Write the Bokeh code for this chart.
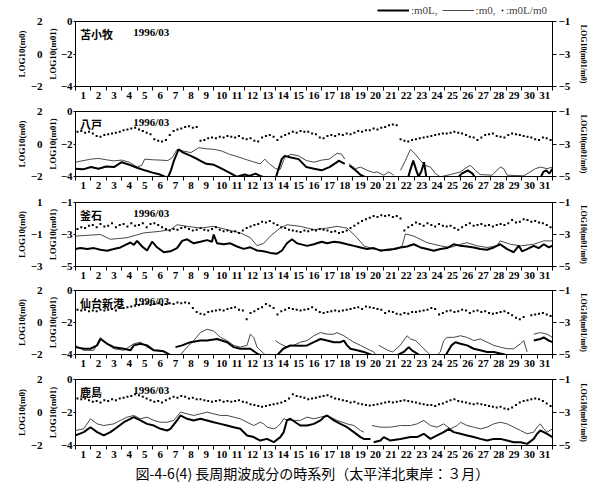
import numpy as np
from bokeh.plotting import figure
from bokeh.models import Range1d, LinearAxis, FixedTicker, Label, Legend, LegendItem, Title
from bokeh.layouts import column
from bokeh.embed import file_html
from bokeh.resources import INLINE

# ---------------- data ----------------
DAYS = list(range(1, 32))
MONTH = "1996/03"
STATIONS = ["苫小牧", "八戸", "釜石", "仙台新港", "鹿島"]
CAPTION = "図-4-6(4)  長周期波成分の時系列（太平洋北東岸：３月）"
LEGEND_LABELS = [":m0L,", ":m0,", ":m0L/m0"]
AXIS_LABELS = ["LOG10(m0)", "LOG10(m01)", "LOG10(m01/m0)"]

# y ticks of inner left axis (m01), outer left axis (m0) and right axis (m01/m0)
M01_TICKS = [[-4, -2, 0], [-4, -2, 0], [-5, -3, -1], [-4, -2, 0], [-4, -2, 0]]
M0_TICKS = [[-2, 0, 2], [-2, 0, 2], [-3, -1, 1], [-2, 0, 2], [-2, 0, 2]]
RATIO_TICKS = [-5, -3, -1]

# (day, value) pairs; None = break
HACHI_M0L = [(0,-3.52),(0.5,-3.56),(1,-3.42),(1.5,-3.52),(2,-3.38),(2.5,-3.42),(3,-3.12),(3.5,-3.28),
             (4,-3.46),(4.5,-3.62),(5,-3.76),(5.5,-3.88),(6,-4.08),(6.2,-3.62),(6.4,-3.02),(6.7,-2.33),
             (7,-2.53),(7.5,-2.73),(8,-2.97),(8.5,-3.22),(9,-3.28),(9.5,-3.52),(10,-3.76),(10.5,-4.02),
             (11,-3.88),(11.3,-3.96),(11.7,-3.82),(12,-3.96),(12.5,-4.12),(13,-4.12),(13.1,-3.82),
             (13.4,-2.93),(13.6,-2.73),(14,-2.83),(14.5,-2.93),(15,-3.42),(15.5,-3.52),(16,-3.62),
             (16.5,-3.42),(17,-3.12),(17.1,-3.02),(17.5,-3.22),(17.6,None),(17.8,-3.32),(18.2,-3.62),
             (18.5,-3.88),(19,-4.12),(21.6,-4.12),(21.75,-3.62),(21.95,-3.02),(22.15,-3.62),(22.3,-4.02),
             (22.5,-3.62),(22.65,-3.12),(22.8,-4.02),(23,-4.16),(24.8,-4.12),(25.1,-3.82),(25.5,-3.62),
             (25.8,-3.82),(26,-4.12),(30.2,-4.12),(30.4,-3.72),(30.6,-3.62),(30.8,-3.82),(31,-3.52)]
HACHI_M0 = [(0,-3.12),(1,-2.93),(1.5,-2.89),(2,-2.97),(2.5,-3.04),(3,-2.99),(3.5,-3.12),(4,-3.42),
            (4.3,-3.32),(4.5,-2.93),(5,-2.97),(5.5,-2.99),(6,-3.02),(6.3,-2.83),(6.6,-2.33),(7,-2.43),
            (7.5,-2.53),(8,-2.23),(8.5,-2.29),(9,-2.33),(9.5,-2.43),(10,-2.63),(10.5,-2.77),(11,-2.93),
            (11.5,-3.08),(12,-3.22),(12.3,-2.93),(12.6,-3.22),(13,-3.52),(13.3,-3.56),(13.6,-2.83),
            (14,-2.63),(14.5,-2.73),(15,-3.02),(15.5,-3.12),(16,-2.99),(16.5,-2.93),(17,-2.57),
            (17.3,-2.63),(17.5,-2.93),(17.6,None),(17.76,-3.22),(18.19,-3.52),(18.52,-3.42),(18.95,-3.62),
            (19.38,-3.76),(19.6,-3.72),(20.03,-3.92),(20.36,-3.72),(20.68,-3.92),(20.9,None),(21.12,-3.62),
            (21.44,-3.02),(21.77,-2.33),(22.09,-2.63),(22.42,-3.02),(22.74,-3.32),(23.07,-3.42),
            (23.39,-3.82),(23.71,-4.02),(24.36,-3.88),(25.02,-3.72),(25.45,-3.42),(25.67,-3.32),
            (25.99,-3.62),(26.31,-3.88),(27.07,-3.92),(27.61,-3.42),(27.83,-3.52),(28.05,-3.92),
            (29.13,-3.96),(29.89,-3.52),(30.21,-3.42),(30.65,-3.52),(31,-3.42)]
HACHI_RATIO = [
    -2.25,-2.20,-2.30,-2.25, -2.35,-2.50,-2.55,-2.45,
    -2.40,-2.35,-2.30,-2.25, -2.15,-2.10,-2.05,-2.00,
    -2.10,-2.20,-2.30,-2.40, -2.70,-2.80,-2.85,-2.75,
    -2.45,-2.20,-2.10,-2.05, -1.95,-1.90,-2.00,-1.95,
    -2.80,-2.75,-2.65,-2.60, -2.65,-2.55,-2.60,-2.50,
    -2.55,-2.60,-2.50,-2.65, -2.70,-2.65,-2.80,-2.85,
    -2.60,-2.50,-2.45,-2.55, -2.75,-2.55,-2.45,-2.35,
    -2.25,-2.30,-2.20,-2.25, -2.25,-2.35,-2.40,-2.60,
    -2.65,-2.50,-2.45,-2.50, -2.40,-2.45,-2.35,-2.40,
    -2.30,-2.20,-2.25,-2.15, -2.15,-2.05,-2.10,-2.00,
    -1.95,-1.85,-1.80,-1.85, -2.70,-2.80,-2.85,-2.75,
    -2.70,-2.65,-2.60,-2.55, -2.50,-2.45,-2.40,-2.35,
    -2.35,-2.30,-2.25,-2.30, -2.35,-2.45,-2.55,-2.60,
    -2.75,-2.60,-2.45,-2.40, -2.35,-2.50,-2.55,-2.60,
    -2.45,-2.35,-2.40,-2.45, -2.50,-2.55,-2.60,-2.70,
    -2.75,-2.60,-2.65,-2.75]

KAMA_M0L = [(0,-3.91),(0.32,-3.85),(0.76,-3.91),(1.19,-3.85),(1.62,-3.95),(2.06,-4.01),(2.49,-3.91),
            (2.92,-3.81),(3.25,-3.65),(3.57,-3.50),(3.79,-3.65),(4.0,-3.40),(4.33,-3.75),(4.65,-4.00),
            (4.98,-3.45),(5.3,-3.80),(5.74,-4.11),(6.17,-4.05),(6.6,-3.85),(6.93,-3.40),(7.25,-3.30),
            (7.68,-3.55),(8.12,-3.45),(8.55,-3.35),(8.87,-3.45),(8.98,-3.00),(9.2,-3.55),(9.63,-3.61),
            (10.06,-3.55),(10.5,-3.75),(10.93,-3.90),(11.36,-3.80),(11.8,-4.00),(12.23,-4.05),
            (12.66,-4.15),(13.1,-4.20),(13.42,-4.00),(13.74,-3.55),(14.07,-3.30),(14.39,-3.55),
            (14.61,-3.60),(15.05,-3.71),(15.49,-3.61),(16.0,-3.45),(16.35,-3.55),(16.8,-3.45),
            (17.2,-3.50),(17.65,-3.61),(18.09,-3.71),(18.52,-3.81),(18.95,-3.91),(19.38,-3.85),
            (19.82,-4.01),(20.25,-3.95),(20.68,-3.91),(21.12,-3.81),(21.55,-3.75),(21.98,-3.61),
            (22.42,-3.81),(22.85,-3.91),(23.28,-4.01),(23.72,-3.91),(24.15,-3.85),(24.58,-3.61),
            (25.02,-3.71),(25.45,-3.75),(25.88,-3.81),(26.31,-3.91),(26.75,-3.95),(27.18,-3.81),
            (27.6,-3.61),(28.05,-3.91),(28.48,-4.11),(28.81,-3.70),(29.02,-4.05),(29.35,-3.91),
            (29.78,-3.71),(30.1,-3.85),(30.43,-3.61),(30.76,-3.81),(31,-3.70)]
KAMA_M0 = [(0,-3.10),(0.76,-3.05),(1.62,-3.00),(2.27,-3.30),(2.8,-3.25),(3.35,-3.20),(3.9,-3.05),
           (4.44,-2.90),(4.98,-2.85),(5.5,-2.80),(6.17,-2.70),(6.6,-2.39),(7.25,-2.49),(8.12,-2.60),
           (8.98,-2.49),(9.85,-2.70),(10.71,-2.90),(11.36,-3.20),(11.8,-3.70),(12.23,-3.55),
           (12.66,-3.10),(13.3,-2.60),(13.74,-2.39),(14.61,-2.49),(15.49,-2.70),(16.35,-2.60),
           (17.0,-2.49),(17.65,-2.60),(17.87,-2.80),(18.3,-3.20),(18.74,-3.71),(19.38,-3.91),
           (20.25,-4.01),(20.9,-3.91),(21.23,-3.71),(21.44,-2.96),(21.98,-3.10),(22.85,-3.51),
           (23.72,-3.71),(24.37,-3.81),(25.02,-3.61),(25.45,-3.51),(26.1,-3.71),(26.75,-3.81),
           (27.4,-3.71),(27.6,-3.40),(28.26,-3.61),(28.92,-3.71),(29.78,-3.61),(30.43,-3.40),(31,-3.40)]
KAMA_RATIO = [
    -2.65,-2.55,-2.60,-2.45, -2.40,-2.55,-2.35,-2.50,
    -2.45,-2.30,-2.55,-2.40, -2.35,-2.50,-2.30,-2.45,
    -2.40,-2.30,-2.55,-2.35, -2.30,-2.40,-2.55,-2.65,
    -2.75,-2.65,-2.70,-2.60, -2.55,-2.65,-2.75,-2.70,
    -2.60,-2.70,-2.75,-2.65, -2.55,-2.70,-2.80,-2.75,
    -2.85,-2.80,-2.90,-2.75, -2.60,-2.50,-2.40,-2.35,
    -2.20,-2.25,-2.15,-2.30, -2.40,-2.55,-2.60,-2.70,
    -2.75,-2.80,-2.85,-2.75, -2.80,-2.70,-2.75,-2.65,
    -2.70,-2.75,-2.85,-2.80, -2.90,-2.85,-2.75,-2.60,
    -2.45,-2.30,-2.15,-2.05, -1.95,-1.85,-1.90,-1.80,
    -1.85,-1.80,-1.90,-1.85, -2.00,-2.75,-2.55,-2.40,
    -2.25,-2.35,-2.45,-2.30, -2.40,-2.50,-2.35,-2.45,
    -2.50,-2.45,-2.60,-2.70, -2.55,-2.40,-2.30,-2.45,
    -2.40,-2.35,-2.45,-2.40, -2.50,-2.40,-2.35,-2.40,
    -2.30,-2.10,-2.25,-2.20, -2.05,-2.10,-2.20,-2.15,
    -2.25,-2.30,-2.40,-2.55]

SENDAI_M0L = [(0,-3.54),(0.54,-3.64),(0.97,-3.64),(1.41,-3.43),(1.62,-3.03),(2.06,-3.33),(2.49,-3.54),
              (3.14,-3.64),(3.57,-3.74),(3.79,-3.43),(4.22,-3.33),(4.65,-3.43),(5.09,-3.74),(5.74,-3.80),
              (6.17,-4.04),(6.3,None),(6.5,-3.54),(6.93,-3.43),(7.47,-3.23),(8.12,-3.13),(8.55,-3.13),
              (9.2,-3.03),(9.85,-3.23),(10.28,-3.54),(10.71,-3.64),(11.36,-3.64),(11.8,-3.94),
              (12.23,-4.14),(13.1,-4.04),(13.5,-3.64),(13.96,-3.43),(14.6,-3.45),(15.05,-3.43),
              (15.49,-3.23),(15.92,-3.03),(16.35,-3.13),(16.79,-3.23),(17.22,-3.23),(17.44,-3.13),
              (17.65,-3.43),(17.87,-3.64),(18.3,-3.74),(18.74,-3.84),(19.17,-4.00),(19.6,-4.24),
              (20.9,-4.04),(21.33,-3.84),(21.66,-3.54),(21.87,-3.74),(22.2,-3.94),(22.63,-4.24),
              (24.0,-4.14),(24.43,-3.43),(24.69,-3.23),(25.02,-3.33),(25.45,-3.43),(25.88,-3.64),
              (26.31,-3.74),(26.75,-3.84),(27.18,-3.84),(27.61,-3.94),(28.05,-4.04),(28.48,-4.24),
              (29.5,None),(29.78,-3.13),(30.21,-3.03),(30.43,-2.93),(30.76,-3.13),(31,-3.23)]
SENDAI_M0 = [(0,-3.43),(0.54,-3.74),(1.19,-3.74),(1.62,-2.93),(2.06,-3.33),(2.49,-3.64),(3.14,-3.74),
             (3.79,-3.33),(4.22,-3.23),(4.65,-3.54),(5.09,-3.74),(5.52,-3.74),(5.95,-3.94),(6.28,-4.24),
             (6.8,-4.04),(7.25,-3.54),(7.68,-3.13),(8.12,-2.63),(8.55,-2.42),(8.98,-2.53),(9.42,-2.93),
             (9.85,-3.13),(10.28,-3.43),(10.71,-3.54),(11.15,-3.43),(11.36,-2.73),(11.58,-2.93),
             (11.8,-3.54),(12.23,-3.94),(12.66,-4.24),(12.9,None),(12.99,-3.13),(13.3,-3.33),
             (13.74,-3.54),(14.18,-3.43),(14.61,-3.23),(15.05,-3.13),(15.49,-2.83),(15.92,-2.63),
             (16.35,-2.73),(16.79,-2.73),(17.0,-2.63),(17.44,-2.83),(17.76,-3.03),(18.09,-3.23),
             (18.52,-3.43),(18.95,-3.64),(19.38,-3.84),(19.6,-4.10),(19.65,None),(19.71,-3.43),
             (20.3,-3.74),(20.62,-3.84),(21.1,-3.43),(21.55,-2.83),(21.77,-3.03),(22.1,-3.13),
             (22.42,-3.43),(22.85,-3.84),(23.28,-4.24),(23.71,-3.84),(23.93,-3.13),(24.15,-2.93),
             (24.58,-2.93),(25.02,-2.83),(25.45,-2.93),(25.88,-3.13),(26.31,-3.03),(26.75,-3.23),
             (27.18,-3.43),(27.61,-3.54),(28.05,-3.64),(28.48,-3.64),(28.92,-3.33),(29.13,-3.13),
             (29.35,-3.84),(29.5,None),(29.78,-2.73),(30.21,-2.63),(30.65,-2.73),(31,-2.93)]
SENDAI_RATIO = [
    -2.20,-2.25,-2.20,-2.30, -2.25,-2.30,-2.20,-2.25,
    -2.20,-2.15,-2.25,-2.10, -2.10,-2.05,-2.00,-1.95,
    -1.90,-1.85,-1.80,-1.90, -1.85,-1.80,-1.90,-1.85,
    -1.80,-1.85,-1.75,-1.80, -1.75,-1.80,-2.10,-2.35,
    -2.45,-2.50,-2.35,-2.30, -2.25,-2.20,-2.25,-2.15,
    -2.10,-2.05,-2.20,-2.25, -2.80,-2.40,-2.30,-2.15,
    -2.05,-1.85,-1.95,-2.10, -2.50,-2.30,-2.20,-2.10,
    -2.15,-2.20,-2.25,-2.20, -2.15,-2.05,-2.20,-2.35,
    -2.40,-2.35,-2.30,-2.25, -2.30,-2.25,-2.20,-2.15,
    -2.10,-2.05,-2.15,-2.00, -2.05,-2.10,-2.15,-2.20,
    -2.40,-2.30,-2.35,-2.45, -2.50,-2.40,-2.45,-2.35,
    -2.35,-2.30,-2.25,-2.20, -2.10,-2.15,-2.50,-2.40,
    -2.30,-2.25,-2.35,-2.30, -2.20,-2.25,-2.40,-2.30,
    -2.25,-2.35,-2.30,-2.40, -2.45,-2.40,-2.35,-2.30,
    -2.40,-2.55,-2.70,-2.80, -2.65,None,-2.55,-2.50,
    -2.45,-2.40,-2.50,-2.60]

KASHI_M0L = [(0,-3.39),(0.54,-3.19),(0.97,-2.89),(1.41,-3.19),(1.84,-3.39),(2.27,-3.19),(2.71,-2.89),
             (3.14,-2.59),(3.57,-2.38),(3.79,-2.28),(4.22,-2.48),(4.65,-2.69),(5.09,-2.79),(5.52,-2.99),
             (5.95,-3.09),(6.17,-2.99),(6.6,-2.48),(6.82,-2.18),(7.25,-2.38),(7.68,-2.48),(8.12,-2.38),
             (8.55,-2.48),(8.98,-2.59),(9.42,-2.69),(9.85,-2.79),(10.28,-2.89),(10.71,-2.99),
             (11.15,-3.39),(11.58,-3.49),(12.01,-3.70),(12.45,-3.60),(12.88,-3.80),(13.31,-3.49),
             (13.53,-3.19),(13.74,-2.48),(13.96,-2.38),(14.29,-2.59),(14.61,-2.79),(15.05,-2.79),
             (15.49,-2.69),(15.92,-2.48),(16.14,-2.28),(16.35,-2.18),(16.79,-2.48),(17.22,-2.69),
             (17.65,-2.89),(18.09,-3.19),(18.52,-3.49),(18.74,-3.60),(19.17,-3.60),(19.27,None),
             (19.38,-3.80),(19.82,-3.70),(20.03,-3.49),(20.47,-3.70),(21.12,-3.60),(21.77,-3.49),
             (22.2,-3.49),(22.63,-3.29),(23.07,-3.60),(23.5,-3.39),(23.93,-3.19),(24.26,-2.99),
             (24.58,-3.19),(25.02,-3.29),(25.45,-3.39),(25.88,-3.49),(26.31,-3.60),(26.75,-3.70),
             (27.18,-3.60),(27.61,-3.60),(28.05,-3.70),(28.48,-3.80),(28.92,-3.80),(29.35,-3.90),
             (29.78,-3.60),(30.0,-3.29),(30.21,-3.09),(30.43,-3.19),(30.65,-3.29),(31,-3.49)]
KASHI_M0 = [(0,-3.09),(0.54,-2.99),(0.97,-2.38),(1.41,-2.69),(1.84,-2.79),(2.49,-2.69),(2.92,-2.48),
            (3.35,-2.28),(3.79,-2.18),(4.22,-2.38),(4.65,-2.28),(5.09,-2.48),(5.52,-2.59),(5.95,-2.59),
            (6.39,-2.48),(6.82,-1.98),(7.25,-2.08),(7.68,-2.18),(8.12,-2.08),(8.55,-1.98),(8.98,-2.08),
            (9.42,-2.18),(9.85,-2.18),(10.28,-2.28),(10.71,-2.38),(11.15,-2.59),(11.58,-2.79),
            (12.01,-2.59),(12.23,-2.69),(12.45,-2.89),(12.88,-2.99),(13.1,-2.89),(13.31,-2.69),
            (13.53,-2.38),(13.74,-2.44),(14.18,-2.48),(14.61,-2.48),(15.05,-2.28),(15.49,-2.38),
            (15.92,-2.28),(16.35,-2.18),(16.57,-2.28),(17.0,-2.48),(17.65,-2.69),(18.09,-2.79),
            (18.52,-3.09),(18.74,-3.19),(19.0,None),(19.27,-2.79),(19.82,-2.89),(20.47,-2.89),
            (21.12,-2.79),(21.77,-2.79),(22.2,-2.69),(22.63,-2.48),(23.07,-2.79),(23.5,-2.89),
            (23.93,-2.69),(24.37,-2.99),(24.8,-2.79),(25.02,-2.59),(25.45,-2.79),(25.88,-2.89),
            (26.31,-2.99),(26.75,-2.89),(27.18,-2.69),(27.61,-2.59),(28.05,-2.69),(28.48,-2.89),
            (28.92,-3.09),(29.35,-3.29),(29.78,-3.19),(30.0,-2.89),(30.21,-2.69),(30.43,-2.99),
            (30.65,-3.19),(31,-2.99)]
KASHI_RATIO = [
    -2.15,-2.20,-2.15,-2.25, -2.35,-2.30,-2.40,-2.25,
    -2.30,-2.20,-2.25,-2.15, -2.10,-2.05,-2.00,-1.90,
    -1.95,-2.05,-2.15,-2.25, -2.35,-2.30,-2.40,-2.25,
    -2.15,-2.05,-2.10,-2.00, -2.05,-2.15,-2.10,-2.20,
    -2.20,-2.25,-2.30,-2.35, -2.30,-2.25,-2.35,-2.30,
    -2.35,-2.30,-2.25,-2.35, -2.40,-2.50,-2.55,-2.60,
    -2.65,-2.60,-2.55,-2.50, -2.45,-2.40,-2.30,-2.15,
    -1.90,-2.00,-2.05,-2.10, -2.20,-2.15,-2.10,-2.05,
    -2.00,-1.95,-2.05,-2.15, -2.20,-2.25,-2.30,-2.40,
    -2.35,-2.45,-2.50,-2.55, -2.58,-2.55,-2.50,-2.45,
    -2.40,-2.35,-2.40,-2.35, -2.30,-2.25,-2.30,-2.35,
    -2.40,-2.45,-2.50,-2.55, -2.55,-2.60,-2.50,-2.45,
    -2.35,-2.25,-2.20,-2.30, -2.35,-2.40,-2.45,-2.50,
    -2.45,-2.50,-2.55,-2.60, -2.65,-2.70,-2.65,-2.75,
    -2.80,-2.70,-2.55,-2.40, -2.30,-2.25,-2.20,-2.15,
    -2.20,-2.30,-2.45,-2.60]

SERIES = [
    (None, None, None),
    (HACHI_M0L, HACHI_M0, HACHI_RATIO),
    (KAMA_M0L, KAMA_M0, KAMA_RATIO),
    (SENDAI_M0L, SENDAI_M0, SENDAI_RATIO),
    (KASHI_M0L, KASHI_M0, KASHI_RATIO),
]

# ---------------- style ----------------
NUM_FONT = "Liberation Serif"
JP_FONT = "Noto Sans CJK JP"
LEGEND_H = 16
HEIGHTS = [85, 90, 90, 88, 124]
TOPS = [5, 10, 11, 9, 10]
BOTTOMS = [13, 13, 13, 13, 48]
THIN_COLOR = "#333333"


def arr(vals):
    return np.array([np.nan if v is None else v for v in vals], dtype=float)


def style_axis(ax, size="11px", label_size="9px"):
    ax.major_label_text_font = NUM_FONT
    ax.major_label_text_font_size = size
    ax.major_label_text_font_style = "bold"
    ax.major_label_text_color = "black"
    ax.axis_label_text_font = NUM_FONT
    ax.axis_label_text_font_size = label_size
    ax.axis_label_text_font_style = "bold"
    ax.axis_label_text_color = "black"
    ax.axis_line_color = "black"
    ax.major_tick_line_color = "black"


def make_legend_fig():
    p = figure(width=600, height=LEGEND_H, x_range=Range1d(0, 1), y_range=Range1d(0, 1),
               output_backend="svg", toolbar_location=None, x_axis_type=None, y_axis_type=None,
               min_border_left=75, min_border_right=48, min_border_top=0, min_border_bottom=0)
    p.outline_line_color = None
    p.xgrid.visible = False
    p.ygrid.visible = False
    nan = [np.nan]
    ra = p.line(nan, nan, line_width=2.2, color="black")
    rb = p.line(nan, nan, line_width=0.9, color=THIN_COLOR)
    rc = p.scatter(nan, nan, marker="square", size=2.5, color="black", line_width=0)
    common = dict(orientation="horizontal", padding=0, margin=0, spacing=4,
                  border_line_color=None, background_fill_alpha=0,
                  label_text_font=NUM_FONT, label_text_font_size="11px",
                  label_height=12, glyph_height=12, label_standoff=2)
    leg1 = Legend(items=[LegendItem(label=LEGEND_LABELS[0], renderers=[ra]),
                         LegendItem(label=LEGEND_LABELS[1], renderers=[rb])],
                  location=(302, 0), glyph_width=32, **common)
    leg2 = Legend(items=[LegendItem(label=LEGEND_LABELS[2], renderers=[rc])],
                  location=(425, 0), glyph_width=4, **common)
    p.add_layout(leg1)
    p.add_layout(leg2)
    return p


def make_panel(i):
    yt = M01_TICKS[i]
    mt = M0_TICKS[i]
    p = figure(width=600, height=HEIGHTS[i], x_range=Range1d(0, 31),
               y_range=Range1d(min(yt), max(yt)), output_backend="svg",
               toolbar_location=None, min_border_left=75, min_border_right=48,
               min_border_top=TOPS[i], min_border_bottom=BOTTOMS[i])
    p.extra_y_ranges = {"m0": Range1d(min(mt), max(mt)),
                        "ratio": Range1d(min(RATIO_TICKS), max(RATIO_TICKS))}
    p.xgrid.visible = False
    p.ygrid.visible = False
    p.outline_line_color = "black"
    p.outline_line_width = 1
    p.background_fill_color = "white"
    p.border_fill_color = "white"

    xa = p.xaxis[0]
    xa.ticker = FixedTicker(ticks=[d - 0.5 for d in DAYS], minor_ticks=[d - 1 for d in DAYS] + [DAYS[-1]])
    xa.major_label_overrides = {d - 0.5: str(d) for d in DAYS}
    style_axis(xa)
    xa.major_tick_out = 0
    xa.major_tick_in = 0
    xa.minor_tick_out = 4
    xa.minor_tick_in = 0
    xa.minor_tick_line_color = "black"
    xa.major_label_standoff = 1

    ya = p.yaxis[0]
    ya.ticker = FixedTicker(ticks=yt)
    ya.axis_label = AXIS_LABELS[1]
    style_axis(ya)
    ya.major_tick_out = 2
    ya.major_tick_in = 0
    ya.major_label_standoff = 1
    ya.axis_label_standoff = 0

    outer = LinearAxis(y_range_name="m0", ticker=FixedTicker(ticks=mt))
    style_axis(outer)
    outer.axis_line_color = None
    outer.major_tick_line_color = None
    outer.major_tick_out = 0
    outer.major_label_standoff = 2
    p.add_layout(outer, "left")
    p.add_layout(Title(text=AXIS_LABELS[0], align="center", standoff=1, text_font=NUM_FONT,
                       text_font_size="9px", text_font_style="bold", text_color="black"), "left")
    # blank outermost spacer keeps the label next to its tick labels
    p.add_layout(Title(text=" ", standoff=0, text_font_size="9px"), "left")

    right = LinearAxis(y_range_name="ratio", ticker=FixedTicker(ticks=RATIO_TICKS), axis_label=AXIS_LABELS[2])
    style_axis(right, label_size="8px")
    right.major_tick_out = 4
    right.major_tick_in = 0
    right.major_label_standoff = 2
    right.axis_label_standoff = 6
    right.axis_label_orientation = "parallel"
    p.add_layout(right, "right")

    thick, thin, ratio = SERIES[i]
    if thin is not None:
        p.line(arr([d for d, _ in thin]), arr([v for _, v in thin]), line_width=0.9, color=THIN_COLOR)
    if thick is not None:
        p.line(arr([d for d, _ in thick]), arr([v for _, v in thick]), line_width=2.0, color="black")
    if ratio is not None:
        xs = (np.arange(len(ratio)) + 0.5) * (DAYS[-1] / len(ratio))
        p.scatter(xs, arr(ratio), y_range_name="ratio", marker="square", size=2.0,
                  color="black", line_width=0)

    p.add_layout(Label(x=0.3, y=max(yt), y_offset=-4, text=STATIONS[i], text_baseline="top",
                       text_font=JP_FONT, text_font_size="11px", text_font_style="bold",
                       text_color="black"))
    p.add_layout(Label(x=3.75, y=max(yt), y_offset=-4, text=MONTH, text_baseline="top",
                       text_font=NUM_FONT, text_font_size="11px", text_font_style="bold",
                       text_color="black"))

    if i == len(STATIONS) - 1:
        cap = Title(text=CAPTION, align="center", text_font=JP_FONT, text_font_size="14px",
                    text_font_style="normal", text_color="black", standoff=0)
        p.add_layout(cap, "below")
    return p


figs = [make_legend_fig()] + [make_panel(i) for i in range(len(STATIONS))]
layout = column(*figs, spacing=0)
open("out.html", "w").write(file_html(layout, INLINE))
